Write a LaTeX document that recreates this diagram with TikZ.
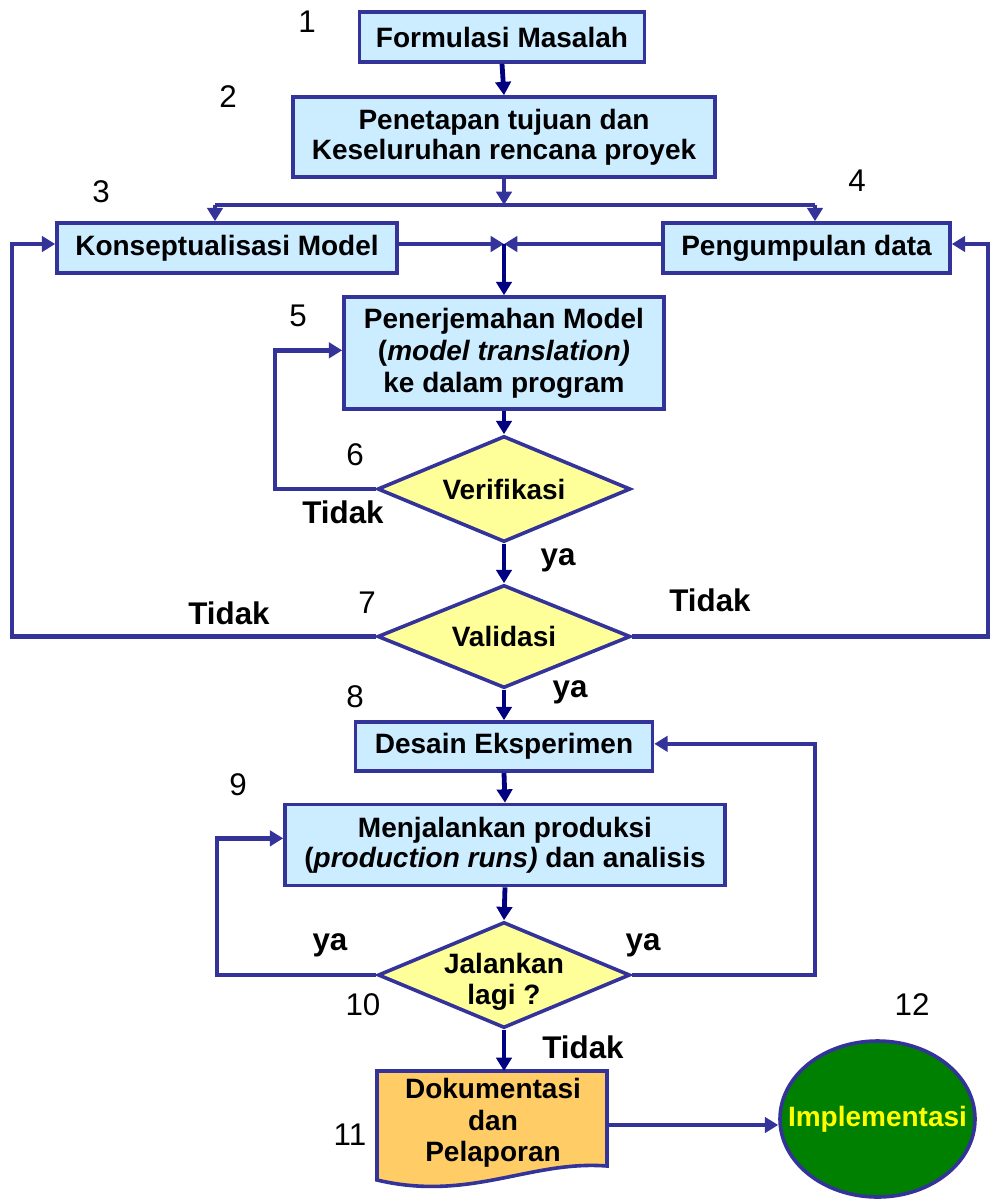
\documentclass[tikz,border=0pt]{standalone}
\usepackage{fontspec}
\setmainfont{Liberation Sans}
\usetikzlibrary{shapes.geometric,arrows.meta}
\definecolor{bfill}{HTML}{CCECFF}
\definecolor{bdraw}{HTML}{333399}
\definecolor{navyc}{HTML}{000080}
\definecolor{dfill}{HTML}{FFFF99}
\definecolor{docfill}{HTML}{FFCC66}
\definecolor{implgreen}{HTML}{008000}
\definecolor{impltext}{HTML}{FFFF00}
\begin{document}
\begin{tikzpicture}[x=0.75pt,y=-0.75pt,
 box/.style={draw=bdraw,fill=bfill,line width=2.7pt,align=center,font=\fontsize{21}{22.5}\selectfont\bfseries,inner sep=0pt},
 dia/.style={diamond,draw=bdraw,fill=dfill,line width=2.7pt,inner sep=0pt},
 txt/.style={font=\fontsize{21}{23}\selectfont\bfseries,align=center,inner sep=0pt},
 num/.style={font=\fontsize{23.5}{26}\selectfont,inner sep=0pt},
 lab/.style={font=\fontsize{23.5}{26}\selectfont\bfseries,inner sep=0pt},
 conn/.style={draw=bdraw,line width=3.4pt,-{Triangle[length=10pt,width=11.5pt]}},
 spine/.style={draw=navyc,line width=3.6pt,-{Triangle[length=10pt,width=11.5pt]}},
 plainln/.style={draw=bdraw,line width=3.4pt},
]
\useasboundingbox (0,0) rectangle (990,1199);

% boxes
\node[box,minimum width=213.75pt,minimum height=37.5pt] (b1) at (502,37) {Formulasi Masalah};
\node[box,minimum width=316.5pt,minimum height=60pt] (b2) at (504,137) {Penetapan tujuan dan\\Keseluruhan rencana proyek};
\node[box,minimum width=255pt,minimum height=37.5pt] (b3) at (227,248) {Konseptualisasi Model};
\node[box,minimum width=215.25pt,minimum height=37.5pt] (b4) at (806.5,248) {Pengumpulan data};
\node[box,minimum width=240pt,minimum height=84pt,font=\fontsize{21}{24}\selectfont\bfseries] (b5) at (504,353) {Penerjemahan Model\\(\textit{model translation)}\\ke dalam program};
\node[dia,minimum width=189.75pt,minimum height=79.5pt] (v1) at (504,489) {};
\node[txt] (v1t) at (v1.center) {Verifikasi};
\node[dia,minimum width=189.75pt,minimum height=77.25pt] (v2) at (504,636.5) {};
\node[txt] (v2t) at (v2.center) {Validasi};
\node[box,minimum width=222.75pt,minimum height=36.75pt] (b8) at (504,746.5) {Desain Eksperimen};
\node[box,minimum width=330pt,minimum height=60.75pt] (b9) at (505,845) {Menjalankan produksi\\(\textit{production runs)} dan analisis};
\node[dia,minimum width=189pt,minimum height=79.5pt] (v3) at (504,975) {};
\node[txt] (v3t) at (504,982) {Jalankan\\lagi ?};

% document shape
\draw[draw=bdraw,fill=docfill,line width=2.7pt]
  (377,1071) -- (607,1071) -- (607,1166)
  .. controls (530,1160) and (470,1202) .. (377,1180) -- cycle;
\node[txt,minimum width=172.5pt,minimum height=73.5pt,font=\fontsize{21}{23.6}\selectfont\bfseries] (doc) at (493,1123) {Dokumentasi\\dan\\Pelaporan};

\node[ellipse,draw=bdraw,fill=implgreen,line width=2.7pt,minimum width=146.25pt,minimum height=117pt,inner sep=0pt] (ell) at (877.5,1119) {};
\node[txt,text=impltext] (ellt) at (ell.center) {Implementasi};

% helper coordinates
\coordinate (j1) at (504,205);
\coordinate (j1L) at (215,205);
\coordinate (j1R) at (815,205);
\coordinate (j2) at (504,244);
\coordinate (farL) at (12,0);
\coordinate (farR) at (988,0);
\coordinate (lp1) at (275,0);
\coordinate (lp2) at (217,0);
\coordinate (lp3) at (815,0);

% connectors
\draw[spine] (b1.south) -- (b2.north);
\draw[conn] (b2.south) -- (j1);
\draw[plainln] (j1L) -- (j1R);
\draw[conn] (j1L) -- (j1L |- b3.north);
\draw[conn] (j1R) -- (j1R |- b4.north);
\draw[conn] (b3.east |- j2) -- (j2);
\draw[conn] (b4.west |- j2) -- (j2);
\draw[spine] (j2) -- (b5.north);
\draw[spine] (b5.south) -- (v1.north);
\draw[conn] (v1.west) -- (v1.west -| lp1) |- ([yshift=2pt]b5.west);
\draw[spine] (v1.south) -- (v2.north);
\draw[conn] (v2.west) -- (v2.west -| farL) |- (b3.west |- j2);
\draw[conn] (v2.east) -- (v2.east -| farR) |- (b4.east |- j2);
\draw[spine] (v2.south) -- (b8.north);
\draw[spine] (b8.south) -- (b9.north);
\draw[spine] (b9.south) -- (v3.north);
\draw[conn] (v3.west) -- (v3.west -| lp2) |- ([yshift=5pt]b9.west);
\draw[conn] (v3.east) -- (v3.east -| lp3) |- ([yshift=2pt]b8.east);
\draw[spine] (v3.south) -- (504,1071);
\draw[conn] (607,1125) -- (ell.west |- 0,1125);

% step numbers
\node[num] (n1) at (307,22) {1};
\node[num] (n2) at (228,97) {2};
\node[num] (n3) at (101,192) {3};
\node[num] (n4) at (857,181) {4};
\node[num] (n5) at (298,316) {5};
\node[num] (n6) at (355,455) {6};
\node[num] (n7) at (367,603) {7};
\node[num] (n8) at (355,697) {8};
\node[num] (n9) at (238,785) {9};
\node[num] (n10) at (363,1005) {10};
\node[num] (n11) at (350,1135) {11};
\node[num] (n12) at (912,1005) {12};

% branch labels
\node[lab] (l1) at (343,512) {Tidak};
\node[lab] (l2) at (558,560) {ya};
\node[lab] (l3) at (229,613) {Tidak};
\node[lab] (l4) at (710,600) {Tidak};
\node[lab] (l5) at (570,692) {ya};
\node[lab] (l6) at (330,945) {ya};
\node[lab] (l7) at (643,945) {ya};
\node[lab] (l8) at (583,1047) {Tidak};
\end{tikzpicture}
\end{document}
